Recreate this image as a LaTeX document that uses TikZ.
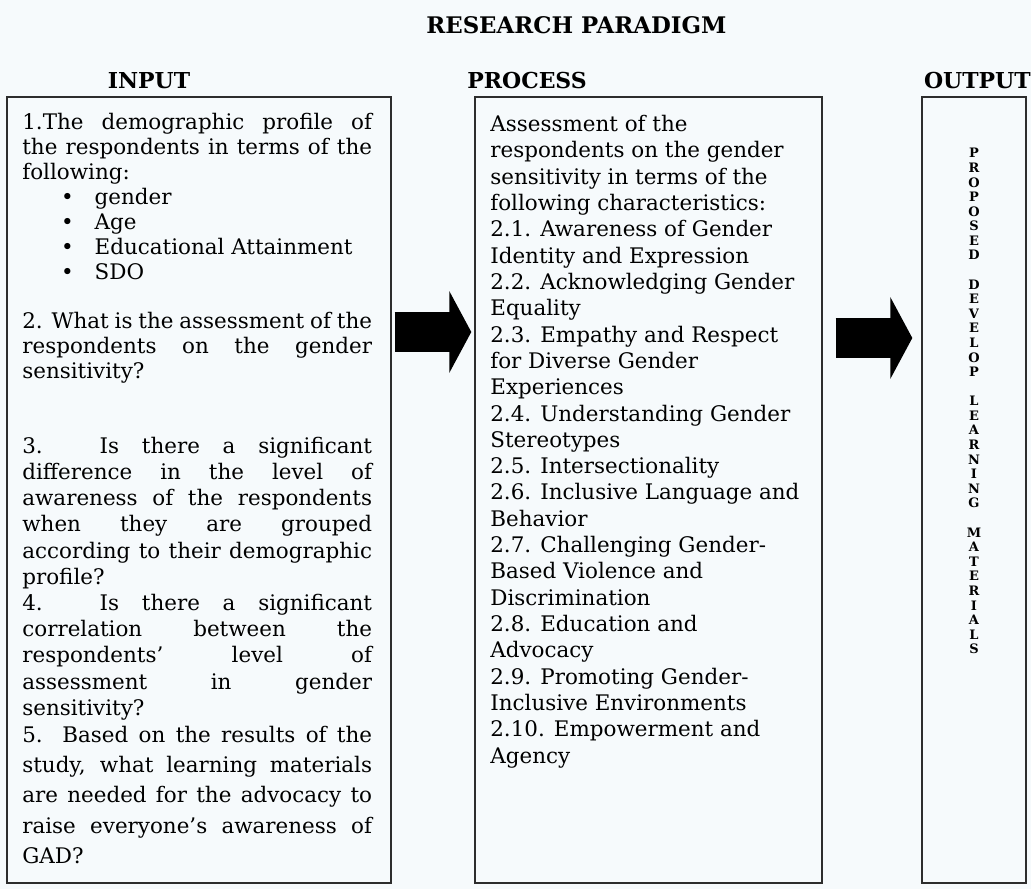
\documentclass[tikz,border=0pt]{standalone}
\usepackage{fontspec}
\setmainfont{DejaVu Serif}
\usetikzlibrary{arrows.meta,fit}

\definecolor{paper}{RGB}{246,250,252}
\definecolor{edge}{RGB}{45,45,45}

% one justified line of the input column, optional extra leading after it
\newcommand{\jline}[2][0pt]{\makebox[\linewidth][s]{#2}\\[#1]}

\begin{document}
\begin{tikzpicture}[scale=0.2]
\tikzstyle{every node}+=[inner sep=0pt]
\tikzstyle{box}=[draw=edge, line width=0.8pt]
\tikzstyle{heading}=[font=\bfseries\fontsize{12.5}{15}\selectfont]
\tikzstyle{body}=[anchor=north west, font=\fontsize{12.2}{14.17}\selectfont]
\tikzstyle{bigarrow}=[line width=23.3pt, -{Triangle[width=46pt,length=12.5pt]}]
\fill [paper] (0,0) rectangle (103.1,-88.9);
\useasboundingbox (0,0) rectangle (103.1,-88.9);
\node [heading, anchor=west, font=\bfseries\fontsize{13}{15}\selectfont] (paradigm) at (42.6,-2.5) {RESEARCH PARADIGM};
\node [heading] (intitle) at (14.9,-8.1) {INPUT};
\node [heading, anchor=west] (proctitle) at (46.7,-8.1) {PROCESS};
\node [heading, anchor=east] (outtitle) at (103.1,-8.1) {OUTPUT};
% the three columns
\node [box, fit={(0.7,-9.7) (39.1,-88.3)}] (inbox) {};
\node [box, fit={(47.5,-9.7) (82.2,-88.3)}] (procbox) {};
\node [box, fit={(92.2,-9.7) (102.6,-88.3)}] (outbox) {};
\node [body, text width=199pt, align=justify] (intext) at (2.2,-11.3) {\noindent
\jline{1.The demographic profile of}
\jline{the respondents in terms of the}
following:\\
\hspace*{22pt}\textbullet\hspace{12pt}gender\\
\hspace*{22pt}\textbullet\hspace{12pt}Age\\
\hspace*{22pt}\textbullet\hspace{12pt}Educational Attainment\\
\hspace*{22pt}\textbullet\hspace{12pt}SDO\\
\mbox{}\\
\jline{2. What is the assessment of the}
\jline{respondents on the gender}
sensitivity?\\
\mbox{}\\
\mbox{}\\
\jline[0.74pt]{3. Is there a significant}
\jline[0.74pt]{difference in the level of}
\jline[0.74pt]{awareness of the respondents}
\jline[0.74pt]{when they are grouped}
\jline[0.74pt]{according to their demographic}
profile?\\[0.74pt]
\jline[0.74pt]{4. Is there a significant}
\jline[0.74pt]{correlation between the}
\jline[0.74pt]{respondents' level of}
\jline[0.74pt]{assessment in gender}
sensitivity?\\[1pt]
\jline[3.13pt]{5. Based on the results of the}
\jline[3.13pt]{study, what learning materials}
\jline[3.13pt]{are needed for the advocacy to}
\jline[3.13pt]{raise everyone's awareness of}
GAD?};
\node [body, align=left, font=\fontsize{12.2}{14.97}\selectfont] (proctext) at (49.0,-11.5) {Assessment of the\\
respondents on the gender\\
sensitivity in terms of the\\
following characteristics:\\
2.1. Awareness of Gender\\
Identity and Expression\\
2.2. Acknowledging Gender\\
Equality\\
2.3. Empathy and Respect\\
for Diverse Gender\\
Experiences\\
2.4. Understanding Gender\\
Stereotypes\\
2.5. Intersectionality\\
2.6. Inclusive Language and\\
Behavior\\
2.7. Challenging Gender-\\
Based Violence and\\
Discrimination\\
2.8. Education and\\
Advocacy\\
2.9. Promoting Gender-\\
Inclusive Environments\\
2.10. Empowerment and\\
Agency};
\node [anchor=north, align=center, font=\bfseries\fontsize{7.4}{8.3}\selectfont] (outtext) at (97.4,-14.8) {P\\R\\O\\P\\O\\S\\E\\D\\~\\
D\\E\\V\\E\\L\\O\\P\\~\\
L\\E\\A\\R\\N\\I\\N\\G\\~\\
M\\A\\T\\E\\R\\I\\A\\L\\S};
% block arrows between the columns
\coordinate (a1) at (0,-33.2);
\coordinate (a2) at (0,-33.8);
\draw [bigarrow, shorten <=1.7pt, shorten >=1.7pt] (inbox.east |- a1) -- (procbox.west |- a1);
\draw [bigarrow, shorten <=7.4pt, shorten >=5.1pt] (procbox.east |- a2) -- (outbox.west |- a2);
\end{tikzpicture}
\end{document}
